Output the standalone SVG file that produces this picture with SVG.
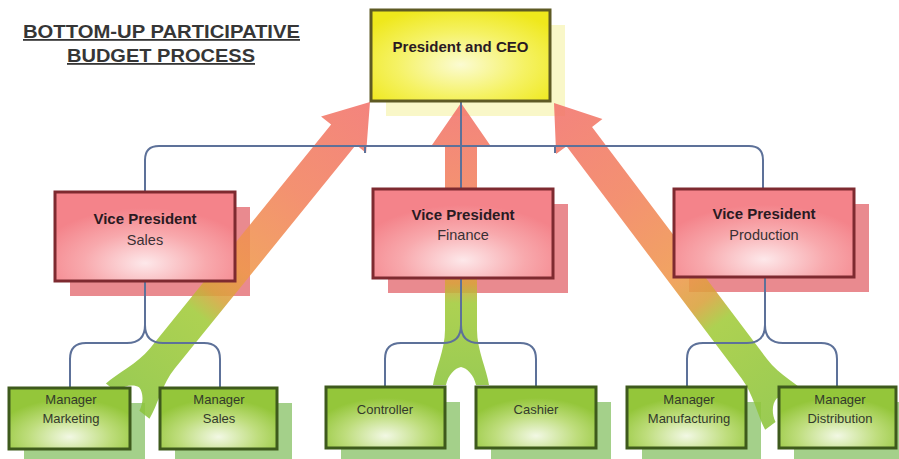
<svg xmlns="http://www.w3.org/2000/svg" width="899" height="459" viewBox="0 0 899 459">
  <defs>
    <radialGradient id="gCeo" cx="0.5" cy="0.6" r="0.65">
      <stop offset="0" stop-color="#fbfbd2"/>
      <stop offset="0.55" stop-color="#f5f264"/>
      <stop offset="1" stop-color="#efe81c"/>
    </radialGradient>
    <radialGradient id="gVp" cx="0.5" cy="0.8" r="0.62">
      <stop offset="0" stop-color="#fde8ea"/>
      <stop offset="0.55" stop-color="#f8a9ad"/>
      <stop offset="1" stop-color="#f4838a"/>
    </radialGradient>
    <radialGradient id="gMgr" cx="0.5" cy="0.8" r="0.62">
      <stop offset="0" stop-color="#f2f8e4"/>
      <stop offset="0.55" stop-color="#bedd7c"/>
      <stop offset="1" stop-color="#94c63a"/>
    </radialGradient>
    <linearGradient id="gFlow" x1="0" y1="0" x2="0" y2="1">
      <stop offset="0" stop-color="#f2736c"/>
      <stop offset="0.3" stop-color="#f2825e"/>
      <stop offset="0.55" stop-color="#ef984c"/>
      <stop offset="0.64" stop-color="#d9a23c"/>
      <stop offset="0.71" stop-color="#a2cb3a"/>
      <stop offset="1" stop-color="#8cc43c"/>
    </linearGradient>
  </defs>
  <style>
    .txt { font-family: "Liberation Sans", Arial, sans-serif; text-anchor: middle; }
    .title { font-size: 18px; font-weight: bold; fill: #363636; text-decoration: underline; }
    .ceo rect { fill: url(#gCeo); stroke: #5e5a24; stroke-width: 3; }
    .vp rect { fill: url(#gVp); stroke: #7e2a30; stroke-width: 3; }
    .mgr rect { fill: url(#gMgr); stroke: #3e5a1c; stroke-width: 3; }
    .shCeo { fill: #f9f7c8; }
    .shVp { fill: #e98a8f; }
    .shMgr { fill: #a4d08a; }
    .b { font-size: 15px; font-weight: bold; fill: #2a1a22; }
    .r { font-size: 14.5px; fill: #3a3034; }
    .s { font-size: 13px; fill: #333a2c; }
    .flow { fill: url(#gFlow); opacity: 0.88; }
    .link { fill: none; stroke: #5d7199; stroke-width: 2; }
  </style>

  <rect width="899" height="459" fill="#ffffff"/>

  <!-- heading -->
  <g id="title" class="txt title">
    <text x="161.5" y="38" textLength="277" lengthAdjust="spacingAndGlyphs">BOTTOM-UP PARTICIPATIVE</text>
    <text x="161" y="62" textLength="188" lengthAdjust="spacingAndGlyphs">BUDGET PROCESS</text>
  </g>

  <!-- drop shadows behind the boxes -->
  <g id="shadows">
    <rect class="shCeo" x="386" y="25" width="179" height="91"/>
    <rect class="shVp" x="70" y="207" width="180" height="89"/>
    <rect class="shVp" x="388" y="204" width="180" height="89"/>
    <rect class="shVp" x="689" y="204" width="180" height="88"/>
    <rect class="shMgr" x="24" y="403" width="121" height="61"/>
    <rect class="shMgr" x="175" y="403" width="117" height="61"/>
    <rect class="shMgr" x="341" y="402" width="119" height="61"/>
    <rect class="shMgr" x="491" y="402" width="120" height="61"/>
    <rect class="shMgr" x="642" y="402" width="119" height="61"/>
    <rect class="shMgr" x="794" y="402" width="117" height="61"/>
  </g>

  <!-- upward flow arrows -->
  <g id="flows">
    <path class="flow" transform="translate(370,102) rotate(39)" d="M0,0 L29,42 L16,42 L16,330 C16,350 26,370 28,385 L15,385 C13,375 6,368 0,367 C-6,368 -13,375 -15,385 L-28,385 C-26,370 -16,350 -16,330 L-16,42 L-29,42 Z"/>
    <path class="flow" transform="translate(461,103)" d="M0,0 L29,42 L16,42 L16,227 C16,247 26,267 28,282 L15,282 C13,272 6,265 0,264 C-6,265 -13,272 -15,282 L-28,282 C-26,267 -16,247 -16,227 L-16,42 L-29,42 Z"/>
    <path class="flow" transform="translate(554,103) rotate(-37)" d="M0,0 L29,42 L16,42 L16,333 C16,353 26,373 28,388 L15,388 C13,378 6,371 0,370 C-6,371 -13,378 -15,388 L-28,388 C-26,373 -16,353 -16,333 L-16,42 L-29,42 Z"/>
  </g>

  <!-- reporting lines -->
  <g id="connectors" class="link">
    <path d="M461,101 V189"/>
    <path d="M145,192 V160 Q145,146 159,146 H749 Q763,146 763,160 V189"/>
    <path d="M365,146 V153 M555,146 V153"/>
    <path d="M145,281 V325 Q145,343 127,343 H86 Q70,343 70,359 V388"/>
    <path d="M145,325 Q145,343 163,343 H204 Q220,343 220,359 V388"/>
    <path d="M461,278 V325 Q461,343 443,343 H401 Q385,343 385,359 V387"/>
    <path d="M461,325 Q461,343 479,343 H520 Q536,343 536,359 V387"/>
    <path d="M765,277 V325 Q765,343 747,343 H703 Q687,343 687,359 V387"/>
    <path d="M765,325 Q765,343 783,343 H821 Q837,343 837,359 V387"/>
  </g>

  <g id="ceo" class="ceo">
    <rect x="371" y="10" width="179" height="91"/>
    <text class="txt b" x="460.5" y="52" font-size="16">President and CEO</text>
  </g>

  <g id="vp-sales" class="vp">
    <rect x="55" y="192" width="180" height="89"/>
    <text class="txt b" x="145" y="224">Vice President</text>
    <text class="txt r" x="145" y="245">Sales</text>
  </g>
  <g id="vp-finance" class="vp">
    <rect x="373" y="189" width="180" height="89"/>
    <text class="txt b" x="463" y="220">Vice President</text>
    <text class="txt r" x="463" y="240">Finance</text>
  </g>
  <g id="vp-production" class="vp">
    <rect x="674" y="189" width="180" height="88"/>
    <text class="txt b" x="764" y="219">Vice President</text>
    <text class="txt r" x="764" y="240">Production</text>
  </g>

  <g id="mgr-marketing" class="mgr">
    <rect x="9" y="388" width="121" height="61"/>
    <text class="txt s" x="71" y="404">Manager</text>
    <text class="txt s" x="71" y="423">Marketing</text>
  </g>
  <g id="mgr-sales" class="mgr">
    <rect x="160" y="388" width="117" height="61"/>
    <text class="txt s" x="219" y="404">Manager</text>
    <text class="txt s" x="219" y="423">Sales</text>
  </g>
  <g id="controller" class="mgr">
    <rect x="326" y="387" width="119" height="61"/>
    <text class="txt s" x="385" y="414">Controller</text>
  </g>
  <g id="cashier" class="mgr">
    <rect x="476" y="387" width="120" height="61"/>
    <text class="txt s" x="536" y="414">Cashier</text>
  </g>
  <g id="mgr-manufacturing" class="mgr">
    <rect x="627" y="387" width="119" height="61"/>
    <text class="txt s" x="689" y="404">Manager</text>
    <text class="txt s" x="689" y="423">Manufacturing</text>
  </g>
  <g id="mgr-distribution" class="mgr">
    <rect x="779" y="387" width="117" height="61"/>
    <text class="txt s" x="840" y="404">Manager</text>
    <text class="txt s" x="840" y="423">Distribution</text>
  </g>
</svg>
